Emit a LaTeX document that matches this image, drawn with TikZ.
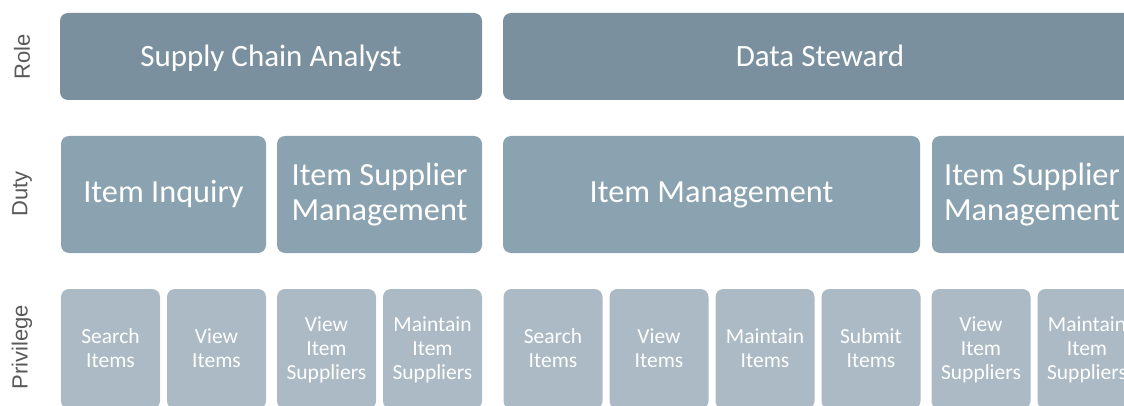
\documentclass[tikz,border=0pt]{standalone}
\usepackage{fontspec}
\setmainfont{Carlito}
\newfontfamily\labelfont{Liberation Sans}
\definecolor{rolec}{HTML}{7A909E}
\definecolor{dutyc}{HTML}{8BA3B0}
\definecolor{privc}{HTML}{ABBAC4}
\definecolor{labc}{HTML}{595959}
\newcommand{\txtline}[1]{\strut #1}
\begin{document}
\begin{tikzpicture}[x=1pt,y=-1pt,
  boxbase/.style={rounded corners=8pt, inner sep=0pt, anchor=center},
  rolebox/.style={boxbase, fill=rolec, minimum height=87pt},
  dutybox/.style={boxbase, fill=dutyc, minimum height=117pt},
  privbox/.style={boxbase, fill=privc, minimum height=120pt, minimum width=99pt},
  txt/.style={inner sep=0pt, text=white, align=center, anchor=center},
  roletxt/.style={txt, font=\fontsize{31}{34}\selectfont},
  dutytxt/.style={txt, font=\fontsize{32.3}{35}\selectfont},
  privtxt/.style={txt, font=\fontsize{21.5}{24}\selectfont},
  rowlabel/.style={rotate=90, text=labc, inner sep=0pt, font=\labelfont\fontsize{22}{24}\selectfont}]
\useasboundingbox (0,0) rectangle (1124,406);
\clip (0,0) rectangle (1124,406);
% row labels
\node[rowlabel] (lrole) at (22,57) {Role};
\node[rowlabel] (lduty) at (22,194) {Duty};
\node[rowlabel] (lpriv) at (22,347) {Privilege};
% roles
\node[rolebox, minimum width=422pt] (r1) at (271,56.5) {};
\node[rolebox, minimum width=634pt] (r2) at (820,56.5) {};
\node[roletxt] (r1t) at ([yshift=-3pt]r1.center) {\txtline{Supply Chain Analyst}};
\node[roletxt] (r2t) at ([yshift=-3pt]r2.center) {\txtline{Data Steward}};
% duties
\node[dutybox, minimum width=205pt] (d1) at (163.5,194.5) {};
\node[dutybox, minimum width=205pt] (d2) at (379.5,194.5) {};
\node[dutybox, minimum width=417pt] (d3) at (711.5,194.5) {};
\node[dutybox, minimum width=200pt] (d4) at (1032,194.5) {};
\node[dutytxt] (d1t) at ([yshift=-1.5pt]d1.center) {\txtline{Item Inquiry}};
\node[dutytxt] (d2t) at ([yshift=-1.5pt]d2.center) {\txtline{Item Supplier}\\\txtline{Management}};
\node[dutytxt] (d3t) at ([yshift=-1.5pt]d3.center) {\txtline{Item Management}};
\node[dutytxt] (d4t) at ([yshift=-1.5pt]d4.center) {\txtline{Item Supplier}\\\txtline{Management}};
% privileges
\foreach \n/\x in {p1/110.5,p2/216.5,p3/326.5,p4/432.5,p5/553,p6/659,p7/765,p8/871,p9/981,p10/1087}
  \node[privbox] (\n) at (\x,349) {};
\node[privtxt] (p1t) at ([yshift=-2pt]p1.center) {\txtline{Search}\\\txtline{Items}};
\node[privtxt] (p2t) at ([yshift=-2pt]p2.center) {\txtline{View}\\\txtline{Items}};
\node[privtxt] (p3t) at ([yshift=-2pt]p3.center) {\txtline{View}\\\txtline{Item}\\\txtline{Suppliers}};
\node[privtxt] (p4t) at ([yshift=-2pt]p4.center) {\txtline{Maintain}\\\txtline{Item}\\\txtline{Suppliers}};
\node[privtxt] (p5t) at ([yshift=-2pt]p5.center) {\txtline{Search}\\\txtline{Items}};
\node[privtxt] (p6t) at ([yshift=-2pt]p6.center) {\txtline{View}\\\txtline{Items}};
\node[privtxt] (p7t) at ([yshift=-2pt]p7.center) {\txtline{Maintain}\\\txtline{Items}};
\node[privtxt] (p8t) at ([yshift=-2pt]p8.center) {\txtline{Submit}\\\txtline{Items}};
\node[privtxt] (p9t) at ([yshift=-2pt]p9.center) {\txtline{View}\\\txtline{Item}\\\txtline{Suppliers}};
\node[privtxt] (p10t) at ([yshift=-2pt]p10.center) {\txtline{Maintain}\\\txtline{Item}\\\txtline{Suppliers}};
\end{tikzpicture}
\end{document}
